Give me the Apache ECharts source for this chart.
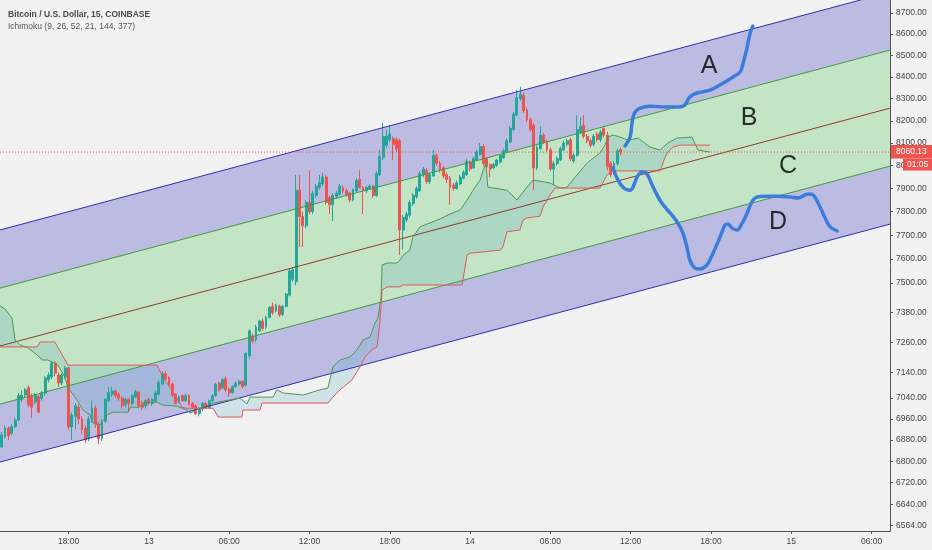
<!DOCTYPE html>
<html><head><meta charset="utf-8">
<script src="https://cdn.jsdelivr.net/npm/echarts@6/dist/echarts.min.js"></script>
<style>html,body{margin:0;padding:0;background:#f1f1f1}#c{width:932px;height:550px}</style>
</head><body><div id="c"></div>
<script>
// ---------- data ----------
const X_TICK_POS = [20, 44, 68, 92, 116, 140, 164, 188, 212, 236, 260];
const X_TICK_TEXT = ['18:00', '13', '06:00', '12:00', '18:00', '14', '06:00', '12:00', '18:00', '15', '06:00'];
const Y_TICKS = [8700, 8600, 8500, 8400, 8300, 8200, 8100, 8000, 7900, 7800, 7700, 7600, 7500, 7380, 7260, 7140, 7040, 6960, 6880, 6800, 6720, 6640, 6564];
const Y_RANGE = [6544, 8763];
const X_RANGE = [-0.5, 265.5];
const LAST_PRICE = 8060.13;
const COUNTDOWN = '01:05';
const TITLE = 'Bitcoin / U.S. Dollar, 15, COINBASE';
const SUBTITLE = 'Ichimoku (9, 26, 52, 21, 144, 377)';

// [open, close, low, high] per 15-minute bar
const CANDLES = [
[6854,6899,6850,6910],[6891,6925,6885,6935],[6925,6895,6880,6932],[6905,6930,6898,6940],[6930,6956,6925,6965],
[6956,7050,6950,7060],[7035,7052,7025,7070],[7052,7072,7045,7080],[7080,7013,7005,7090],[7050,7005,6963,7058],
[7025,7052,7015,7060],[7045,6986,6982,7052],[7040,7060,7030,7068],[7060,7118,7050,7125],[7111,7130,7100,7140],
[7122,7177,7115,7185],[7177,7138,7125,7185],[7130,7099,7083,7140],[7099,7130,7090,7138],[7122,7158,7115,7165],
[7158,6929,6918,7162],[6929,6975,6880,6985],[6970,7010,6920,7020],[7005,6960,6940,7015],[6960,6920,6900,6970],
[6925,6880,6868,6935],[6885,6960,6875,6970],[6955,7000,6945,7030],[7000,6940,6925,7010],[6940,6885,6865,6950],
[6885,6950,6875,6958],[6950,7035,6945,7040],[7030,7062,7025,7083],[7055,7068,7045,7085],[7068,7050,7040,7075],
[7055,7040,7030,7062],[7040,7010,7000,7048],[7015,7035,7005,7042],[7035,7020,6986,7040],[7020,7050,7012,7055],
[7045,7065,7040,7072],[7062,7010,7000,7068],[7020,7005,6995,7030],[7010,7030,7000,7035],[7035,7020,7012,7042],
[7020,7035,7010,7040],[7030,7060,7025,7068],[7055,7100,7050,7110],[7095,7135,7090,7145],[7135,7115,7110,7145],
[7120,7090,7085,7125],[7095,7050,7045,7100],[7055,7020,7015,7060],[7025,7045,7020,7050],[7050,7030,7025,7055],
[7030,7050,7025,7058],[7050,7015,7010,7055],[7020,7005,7000,7025],[7010,6980,6975,7015],[6980,6998,6970,7005],
[6998,7020,6990,7025],[7020,7005,7000,7025],[7005,7030,7000,7035],[7030,7050,7025,7055],[7050,7095,7045,7100],
[7098,7072,7065,7105],[7080,7112,7075,7120],[7115,7072,7065,7125],[7075,7060,7045,7082],[7062,7085,7055,7090],
[7085,7098,7080,7105],[7095,7105,7088,7112],[7105,7085,7078,7110],[7090,7215,7085,7220],[7205,7305,7195,7312],
[7285,7265,7255,7295],[7269,7320,7260,7330],[7305,7345,7300,7350],[7345,7315,7305,7355],[7320,7360,7312,7365],
[7360,7400,7355,7405],[7405,7378,7370,7420],[7385,7410,7380,7415],[7405,7370,7362,7412],[7372,7405,7365,7410],
[7405,7455,7400,7460],[7450,7550,7445,7558],[7515,7555,7505,7565],[7505,7893,7490,7959],[7893,7780,7650,7959],
[7780,7740,7650,7800],[7740,7840,7730,7850],[7840,7800,7790,7981],[7800,7880,7790,7890],[7870,7910,7860,7920],
[7905,7925,7895,7959],[7920,7950,7910,7970],[7950,7840,7830,7960],[7860,7830,7790,7870],[7830,7870,7760,7880],
[7865,7880,7855,7890],[7875,7910,7870,7920],[7905,7890,7880,7915],[7890,7875,7865,7900],[7880,7850,7840,7885],
[7850,7895,7845,7900],[7890,7935,7885,7945],[7940,7905,7900,7980],[7905,7890,7790,7910],[7890,7905,7880,7912],
[7900,7910,7895,7918],[7910,7870,7860,7915],[7870,7965,7865,7975],[7960,8040,7955,8070],[8035,8130,8025,8190],
[8090,8130,8080,8160],[8115,8140,8105,8180],[8120,8095,8025,8130],[8115,8075,8060,8125],[8110,7722,7616,8120],
[7722,7775,7640,7785],[7765,7790,7755,7800],[7785,7840,7775,7850],[7835,7870,7825,7880],[7865,7900,7855,7910],
[7890,7965,7885,7975],[7960,7985,7950,7995],[7980,7930,7920,7990],[7930,7960,7920,7970],[7955,8045,7950,8069],
[8045,8010,8000,8055],[8010,7980,7970,8020],[7990,7955,7945,8000],[7960,7940,7925,7970],[7945,7905,7830,7955],
[7915,7900,7890,7925],[7900,7925,7895,7935],[7920,7950,7915,7960],[7945,7970,7940,7980],[7960,8020,7955,8030],
[8015,7985,7975,8025],[7990,8030,7985,8040],[8025,8060,8020,8070],[8050,8085,8045,8100],[8085,8010,8000,8095],
[8030,7995,7985,8040],[8005,7985,7950,8010],[7990,8005,7985,8012],[8000,8025,7995,8030],[8015,8045,8010,8050],
[8035,8065,8030,8075],[8060,8110,8055,8120],[8105,8165,8100,8175],[8160,8230,8155,8240],[8225,8305,8220,8340],
[8300,8320,8290,8355],[8315,8245,8235,8330],[8250,8205,8195,8260],[8205,8160,8150,8215],[8180,7990,7893,8190],
[7990,8080,7980,8090],[8075,8135,8070,8175],[8135,8105,8095,8145],[8105,8070,8060,8115],[8070,7985,7975,8080],
[7985,8010,7915,8020],[8010,8030,8000,8040],[8025,8075,8020,8085],[8070,8100,8065,8110],[8095,8110,8085,8120],
[8115,8030,8020,8125],[8020,8045,8012,8055],[8045,8160,8040,8225],[8150,8175,8140,8215],[8180,8130,8120,8225],
[8130,8110,8100,8140],[8110,8090,8080,8120],[8095,8130,8085,8140],[8140,8115,8105,8150],[8115,8150,8105,8160],
[8165,8135,8125,8175],[8135,7995,7980,8150],[8010,7960,7950,8020],[7965,8010,7960,8020],[8010,8065,8000,8075],
[8070,8060.13,8045,8080]
];

// Ichimoku leading spans: [bar index, price] vertices
const LEAD_A = [[-0.5,7406],[1.0,7394],[3.1,7357],[4.0,7269],[5.5,7249],[7.9,7237],[10.6,7209],[12.1,7189],[13.8,7189],[16.8,7169],[18.9,7122],[19.8,7079],[21.0,7060],[22.5,7033],[24.3,6994],[26.4,6975],[27.3,6945],[29.4,6937],[31.5,6975],[33.3,6986],[37.8,6986],[38.4,7005],[41.3,7005],[42.2,7021],[46.4,7025],[48.2,7013],[52.4,7009],[55.4,6994],[56.3,6982],[59.3,7001],[63.2,7021],[68.2,7033],[71.2,7040],[73.3,7017],[74.2,7044],[81.1,7044],[82.3,7072],[84.1,7060],[90.1,7052],[95.1,7072],[97.5,7079],[99.0,7162],[101.1,7189],[104.1,7201],[106.2,7229],[108.0,7269],[110.1,7281],[111.6,7337],[112.5,7357],[113.4,7443],[113.7,7575],[115.2,7583],[118.2,7583],[119.0,7595],[120.0,7616],[122.0,7637],[122.9,7692],[125.0,7735],[128.0,7752],[131.0,7769],[134.0,7790],[137.0,7807],[139.1,7850],[140.9,7893],[143.0,7937],[144.7,8016],[145.3,7906],[151.0,7893],[152.5,7872],[154.0,7850],[157.0,7906],[158.8,7937],[163.9,7924],[166.9,7902],[169.0,7906],[170.7,7937],[175.0,8012],[178.8,8056],[180.3,8091],[181.2,8127],[182.7,8136],[184.8,8127],[187.2,8113],[190.2,8122],[193.8,8082],[196.8,8069],[199.1,8100],[201.8,8122],[206.3,8127],[208.1,8069],[211.7,8060]];
const LEAD_B = [[-0.5,7241],[10.6,7241],[11.5,7261],[15.9,7261],[19.8,7169],[46.4,7169],[48.2,7122],[51.8,7052],[53.9,7005],[55.4,7001],[63.2,7001],[64.7,6967],[71.8,6967],[72.1,6994],[77.2,6994],[77.8,7021],[97.5,7021],[99.0,7044],[101.1,7072],[104.7,7111],[107.1,7162],[108.6,7201],[110.7,7229],[112.2,7241],[113.1,7349],[113.7,7471],[115.2,7484],[119.0,7484],[120.0,7492],[137.6,7492],[139.1,7616],[140.0,7624],[149.0,7637],[149.8,7650],[151.0,7714],[154.9,7722],[155.8,7764],[157.0,7773],[160.9,7781],[161.8,7820],[163.9,7872],[165.4,7902],[178.8,7902],[180.9,7959],[182.7,7977],[196.8,7977],[198.2,8034],[199.1,8060],[200.6,8082],[202.7,8091],[211.7,8091]];

// parallel channel: [bar index, price] end points
const CH_TOP = [[-0.5, 7722], [265.5, 8801]];
const CH_UPPER = [[-0.5, 7479], [265.5, 8525]];
const CH_MID = [[-0.5, 7245], [265.5, 8257]];
const CH_LOWER = [[-0.5, 7017], [265.5, 7998]];
const CH_BOTTOM = [[-0.5, 6797], [265.5, 7747]];

// hand-drawn scenario curves
const DRAW_UP = [[186.3,8087],[187.8,8127],[188.4,8190],[188.7,8217],[189.3,8239],[190.8,8257],[193.8,8266],[198.8,8262],[202.7,8262],[204.2,8271],[205.7,8308],[207.8,8326],[211.7,8339],[215.6,8371],[218.6,8400],[220.7,8423],[221.6,8464],[222.8,8539],[223.7,8605],[224.5,8638]];
const DRAW_DOWN = [[182.7,7990],[183.9,7946],[185.7,7906],[187.8,7893],[188.7,7906],[189.9,7950],[191.4,7972],[192.9,7963],[194.7,7906],[197.3,7837],[200.3,7786],[202.1,7751],[203.6,7709],[204.8,7650],[205.7,7595],[207.2,7562],[208.7,7558],[210.8,7575],[212.6,7624],[214.7,7692],[216.2,7743],[217.1,7747],[218.3,7730],[219.8,7722],[221.3,7751],[222.8,7794],[224.2,7842],[225.7,7863],[228.7,7867],[232.6,7867],[235.6,7863],[238.0,7859],[241.0,7876],[242.5,7872],[244.6,7820],[246.1,7773],[247.6,7735],[249.7,7718]];
const NOTES = [[211.4, 8450, 'A'], [223.4, 8212, 'B'], [235.0, 7999, 'C'], [232.0, 7755, 'D']];

// ---------- helpers ----------
const L = Math.log;
const lnPts = arr => arr.map(p => [p[0], L(p[1])]);
function interpLn(line, x) {
  if (x <= line[0][0]) return line[0][1];
  for (let k = 1; k < line.length; k++) {
    if (x <= line[k][0]) {
      const [x0, y0] = line[k - 1], [x1, y1] = line[k];
      return x1 === x0 ? y1 : y0 + (y1 - y0) * (x - x0) / (x1 - x0);
    }
  }
  return line[line.length - 1][1];
}
function cloudRuns(A, B) {
  const lo = Math.max(A[0][0], B[0][0]), hi = Math.min(A[A.length - 1][0], B[B.length - 1][0]);
  const xs = [...new Set([...A, ...B].map(p => p[0]).filter(x => x >= lo && x <= hi))].sort((a, b) => a - b);
  const pts = [];
  xs.forEach((x, k) => {
    const a = interpLn(A, x), b = interpLn(B, x);
    if (k > 0) {
      const pr = pts[pts.length - 1], d0 = pr.a - pr.b, d1 = a - b;
      if (d0 * d1 < 0) {
        const t = d0 / (d0 - d1);
        const c = pr.a + (a - pr.a) * t;
        pts.push({ x: pr.x + (x - pr.x) * t, a: c, b: c, cross: true });
      }
    }
    pts.push({ x, a, b });
  });
  const runs = []; let cur = [];
  pts.forEach(p => { cur.push(p); if (p.cross) { runs.push(cur); cur = [p]; } });
  if (cur.length > 1) runs.push(cur);
  return runs;
}

const lnA = lnPts(LEAD_A), lnB = lnPts(LEAD_B);
const runs = cloudRuns(lnA, lnB);
const candleData = CANDLES.map((c, i) => [i, L(c[0]), L(c[1]), L(c[2]), L(c[3])]);

const LAVENDER = '#bcbce2', BANDGREEN = '#c3e5c5';
const bandDefs = [
  { up: CH_TOP, dn: CH_UPPER, color: LAVENDER },
  { up: CH_UPPER, dn: CH_LOWER, color: BANDGREEN },
  { up: CH_LOWER, dn: CH_BOTTOM, color: LAVENDER }
];
const FONT = 'Liberation Sans, Arial, sans-serif';

function lineSeries(pts, color, width, extra) {
  return Object.assign({
    type: 'line', data: lnPts(pts), showSymbol: false, symbol: 'none', silent: true,
    lineStyle: { color, width }, clip: true
  }, extra || {});
}

const chart = echarts.init(document.getElementById('c'), null, { renderer: 'canvas' });
chart.setOption({
  animation: false,
  backgroundColor: '#f1f1f1',
  title: {
    text: TITLE, subtext: SUBTITLE, left: 3, top: 5, itemGap: 3,
    textStyle: { fontSize: 8.5, fontWeight: 'bold', color: '#4a4a4a', fontFamily: FONT },
    subtextStyle: { fontSize: 8.5, color: '#555', fontFamily: FONT }
  },
  grid: { left: 0, right: 42, top: 0, bottom: 19 },
  xAxis: {
    type: 'value', min: X_RANGE[0], max: X_RANGE[1],
    splitLine: { show: false },
    axisLine: { onZero: false, lineStyle: { color: '#555' } },
    axisTick: { show: true, customValues: X_TICK_POS, length: 3, lineStyle: { color: '#555' } },
    axisLabel: {
      customValues: X_TICK_POS, margin: 6, fontSize: 8.5, color: '#444', fontFamily: FONT,
      formatter: v => X_TICK_TEXT[X_TICK_POS.indexOf(Math.round(v))] || ''
    }
  },
  yAxis: {
    type: 'value', position: 'right', min: L(Y_RANGE[0]), max: L(Y_RANGE[1]),
    splitLine: { show: false },
    axisLine: { show: true, onZero: false, lineStyle: { color: '#555' } },
    axisTick: { show: true, customValues: Y_TICKS.map(L), length: 3, lineStyle: { color: '#555' } },
    axisLabel: {
      customValues: Y_TICKS.map(L), margin: 6, fontSize: 8.5, color: '#444', fontFamily: FONT,
      formatter: v => Math.exp(v).toFixed(2)
    }
  },
  series: [
    { // channel bands
      type: 'custom', silent: true, clip: true, data: [[0, L(7000)]],
      renderItem: (p, api) => ({
        type: 'group',
        children: bandDefs.map(b => ({
          type: 'polygon',
          shape: { points: lnPts(b.up).map(q => api.coord(q)).concat(lnPts(b.dn).reverse().map(q => api.coord(q))) },
          style: { fill: b.color }
        }))
      })
    },
    lineSeries(CH_TOP, '#2f2fb0', 1),
    lineSeries(CH_UPPER, '#3f9a3f', 1),
    lineSeries(CH_MID, '#8e3d2c', 1),
    lineSeries(CH_LOWER, '#3f9a3f', 1),
    lineSeries(CH_BOTTOM, '#2f2fb0', 1),
    { // ichimoku cloud
      type: 'custom', silent: true, clip: true, data: [[0, L(7000)]],
      renderItem: (p, api) => ({
        type: 'group',
        children: runs.map(r => {
          const s = r.reduce((acc, q) => acc + (q.a - q.b), 0);
          const pts = r.map(q => api.coord([q.x, q.a])).concat(r.slice().reverse().map(q => api.coord([q.x, q.b])));
          return { type: 'polygon', shape: { points: pts }, style: { fill: s > 0 ? 'rgba(90,170,200,0.22)' : 'rgba(230,90,90,0.08)' } };
        })
      })
    },
    lineSeries(LEAD_A, '#4d9a50', 1),
    lineSeries(LEAD_B, '#e0585a', 1),
    {
      type: 'candlestick', data: candleData, encode: { x: 0, y: [1, 2, 3, 4] }, barWidth: 2.4, silent: true,
      itemStyle: { color: '#26a69a', color0: '#ef5350', borderColor: '#26a69a', borderColor0: '#ef5350', borderWidth: 1 }
    },
    lineSeries([[X_RANGE[0], LAST_PRICE], [X_RANGE[1], LAST_PRICE]], '#ef5350', 1, { lineStyle: { color: '#ef5350', width: 1, type: [1, 2] } }),
    lineSeries(DRAW_UP, '#3c7ddc', 3.5, { smooth: 0.35, lineStyle: { color: '#3c7ddc', width: 3.5, cap: 'round', join: 'round' } }),
    lineSeries(DRAW_DOWN, '#3c7ddc', 3.5, { smooth: 0.35, lineStyle: { color: '#3c7ddc', width: 3.5, cap: 'round', join: 'round' } }),
    {
      type: 'scatter', silent: true, symbolSize: 1, itemStyle: { color: 'rgba(0,0,0,0)' },
      data: NOTES.map(n => [n[0], L(n[1]), n[2]]),
      label: { show: true, position: 'inside', formatter: p => p.data[2], fontSize: 25, color: '#000', fontFamily: FONT }
    }
  ]
});

// last-price tag on the price scale
const py = chart.convertToPixel({ yAxisIndex: 0 }, L(LAST_PRICE));
chart.setOption({
  graphic: [
    { type: 'rect', shape: { x: 891, y: py - 7, width: 41, height: 13.5 }, style: { fill: '#ef5350' }, z: 100 },
    { type: 'text', x: 896, y: py, style: { text: LAST_PRICE.toFixed(2), fill: '#fff', fontSize: 8.5, fontFamily: FONT, verticalAlign: 'middle' }, z: 101 },
    { type: 'rect', shape: { x: 903, y: py + 6.5, width: 29, height: 12 }, style: { fill: '#ef5350' }, z: 100 },
    { type: 'text', x: 907, y: py + 12.5, style: { text: COUNTDOWN, fill: '#fff', fontSize: 8.5, fontFamily: FONT, verticalAlign: 'middle' }, z: 101 }
  ]
});
</script></body></html>
